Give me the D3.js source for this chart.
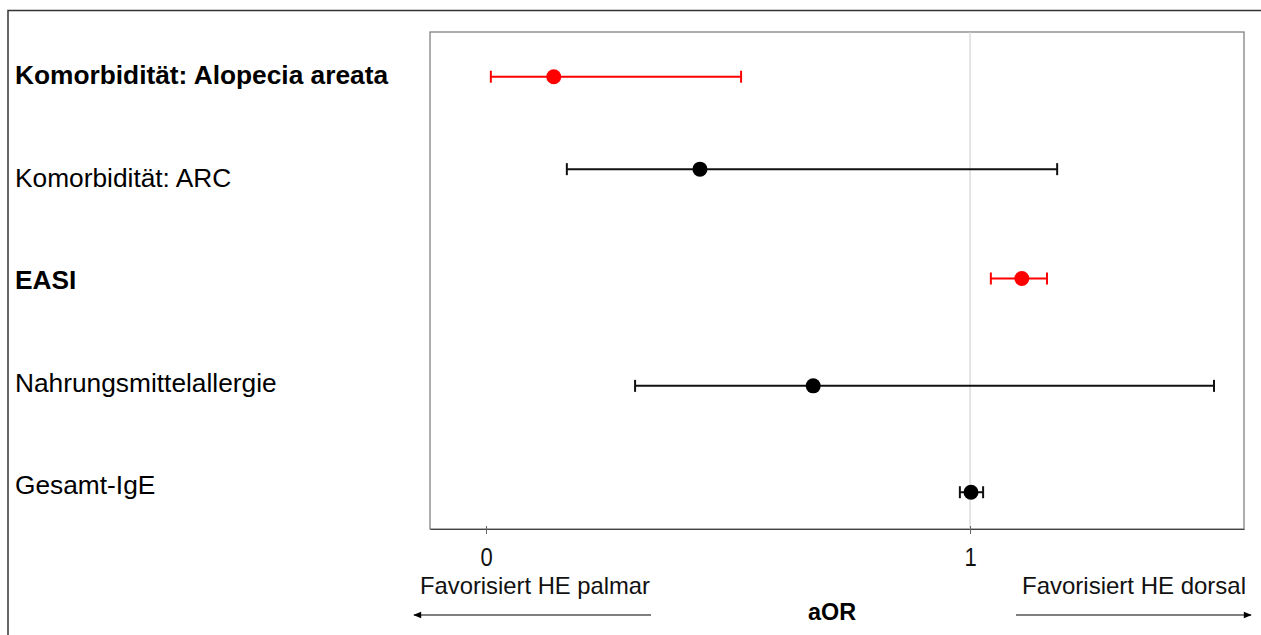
<!DOCTYPE html>
<html>
<head>
<meta charset="utf-8">
<script src="https://cdn.jsdelivr.net/npm/d3@7"></script>
<style>
  html, body { margin: 0; padding: 0; background: #fff; }
  svg { display: block; font-family: "Liberation Sans", Arial, sans-serif; }
</style>
</head>
<body>
<svg id="chart" width="1261" height="635"></svg>
<script>
// Predictors, top to bottom
const categories = [
  "Komorbidität: Alopecia areata",
  "Komorbidität: ARC",
  "EASI",
  "Nahrungsmittelallergie",
  "Gesamt-IgE"
];
// Adjusted odds ratios with 95% confidence limits
const aor   = [0.14, 0.442, 1.107, 0.676, 1.002];
const lower = [0.01, 0.167, 1.043, 0.308, 0.979];
const upper = [0.527, 1.18, 1.159, 1.504, 1.027];
// Significant predictors are highlighted
const significant = [true, false, true, false, false];
// Vertical position of each estimate (scatter y values)
const rowPos = [4.55, 3.62, 2.52, 1.44, 0.37];
const xTicks = [0, 1];
const xTickLabels = ["0", "1"];

const svg = d3.select("#chart");

const plot = { left: 430, right: 1244, top: 32, bottom: 529 };

const x = d3.scaleLinear().domain([-0.1157, 1.566]).range([plot.left, plot.right]);
const y = d3.scaleLinear().domain([0, 5]).range([plot.bottom, plot.top]);
const labelY = d3.scalePoint().domain(categories).range([75, 485]);

// Outer frame (top and left edges)
svg.append("path")
  .attr("d", "M8,635 L8,10.5 L1261,10.5")
  .attr("fill", "none")
  .attr("stroke", "#333")
  .attr("stroke-width", 1.5);

// Plot area border
svg.append("rect")
  .attr("x", plot.left).attr("y", plot.top)
  .attr("width", plot.right - plot.left).attr("height", plot.bottom - plot.top)
  .attr("fill", "none")
  .attr("stroke", "#777")
  .attr("stroke-width", 1.2);

// Reference line at aOR = 1
svg.append("line")
  .attr("x1", x(1)).attr("x2", x(1))
  .attr("y1", plot.top).attr("y2", plot.bottom)
  .attr("stroke", "#d4d4d4")
  .attr("stroke-width", 1.2);

// X axis
const xAxis = d3.axisBottom(x)
  .tickValues(xTicks)
  .tickFormat((d, i) => xTickLabels[i])
  .tickSizeInner(5)
  .tickSizeOuter(0)
  .tickPadding(14);
const gx = svg.append("g")
  .attr("transform", `translate(0,${plot.bottom})`)
  .call(xAxis);
gx.select(".domain").attr("stroke", "#444").attr("stroke-width", 1.2);
gx.selectAll(".tick line").attr("stroke", "#666").attr("y1", -3);
gx.selectAll(".tick text")
  .attr("font-size", 25)
  .attr("fill", "#111")
  .attr("transform", "scale(0.88,1)")
  .style("font-family", "'Liberation Sans', Arial, sans-serif");

// Category labels
svg.append("g").selectAll("text")
  .data(categories)
  .join("text")
  .attr("x", 15)
  .attr("y", d => labelY(d))
  .attr("dy", "0.35em")
  .attr("font-size", 26.3)
  .attr("font-weight", (d, i) => significant[i] ? "bold" : "normal")
  .attr("fill", "#000")
  .text(d => d);

// Confidence intervals
const rows = categories.map((c, i) => ({
  c, est: aor[i], lo: lower[i], hi: upper[i], sig: significant[i], pos: rowPos[i]
}));
const color = d => d.sig ? "#ff0000" : "#111";

const g = svg.append("g").selectAll("g").data(rows).join("g");
g.append("line")
  .attr("x1", d => x(d.lo)).attr("x2", d => x(d.hi))
  .attr("y1", d => y(d.pos)).attr("y2", d => y(d.pos))
  .attr("stroke", color).attr("stroke-width", 2);
g.append("line")
  .attr("x1", d => x(d.lo)).attr("x2", d => x(d.lo))
  .attr("y1", d => y(d.pos) - 6).attr("y2", d => y(d.pos) + 6)
  .attr("stroke", color).attr("stroke-width", 2);
g.append("line")
  .attr("x1", d => x(d.hi)).attr("x2", d => x(d.hi))
  .attr("y1", d => y(d.pos) - 6).attr("y2", d => y(d.pos) + 6)
  .attr("stroke", color).attr("stroke-width", 2);
g.append("circle")
  .attr("cx", d => x(d.est)).attr("cy", d => y(d.pos))
  .attr("r", 7.5)
  .attr("fill", d => d.sig ? "#ff0000" : "#000");

// Direction annotations beneath the axis
const defs = svg.append("defs");
defs.append("marker")
  .attr("id", "arrowhead")
  .attr("viewBox", "0 0 10 10")
  .attr("refX", 9).attr("refY", 5)
  .attr("markerWidth", 9).attr("markerHeight", 8)
  .attr("markerUnits", "userSpaceOnUse")
  .attr("orient", "auto")
  .append("path")
  .attr("d", "M0,1 L10,5 L0,9 Z")
  .attr("fill", "#000");

svg.append("line")
  .attr("x1", 651).attr("x2", 414)
  .attr("y1", 615).attr("y2", 615)
  .attr("stroke", "#000").attr("stroke-width", 1.2)
  .attr("marker-end", "url(#arrowhead)");
svg.append("line")
  .attr("x1", 1016).attr("x2", 1251)
  .attr("y1", 615).attr("y2", 615)
  .attr("stroke", "#000").attr("stroke-width", 1.2)
  .attr("marker-end", "url(#arrowhead)");

svg.append("text")
  .attr("x", 420).attr("y", 594)
  .attr("font-size", 24)
  .attr("textLength", 230)
  .attr("lengthAdjust", "spacingAndGlyphs")
  .attr("fill", "#111")
  .text("Favorisiert HE palmar");
svg.append("text")
  .attr("x", 1022).attr("y", 594)
  .attr("font-size", 24)
  .attr("textLength", 224)
  .attr("lengthAdjust", "spacingAndGlyphs")
  .attr("fill", "#111")
  .text("Favorisiert HE dorsal");
svg.append("text")
  .attr("x", 808).attr("y", 620)
  .attr("font-size", 24)
  .attr("textLength", 48)
  .attr("lengthAdjust", "spacingAndGlyphs")
  .attr("font-weight", "bold")
  .attr("fill", "#000")
  .text("aOR");
</script>
</body>
</html>
